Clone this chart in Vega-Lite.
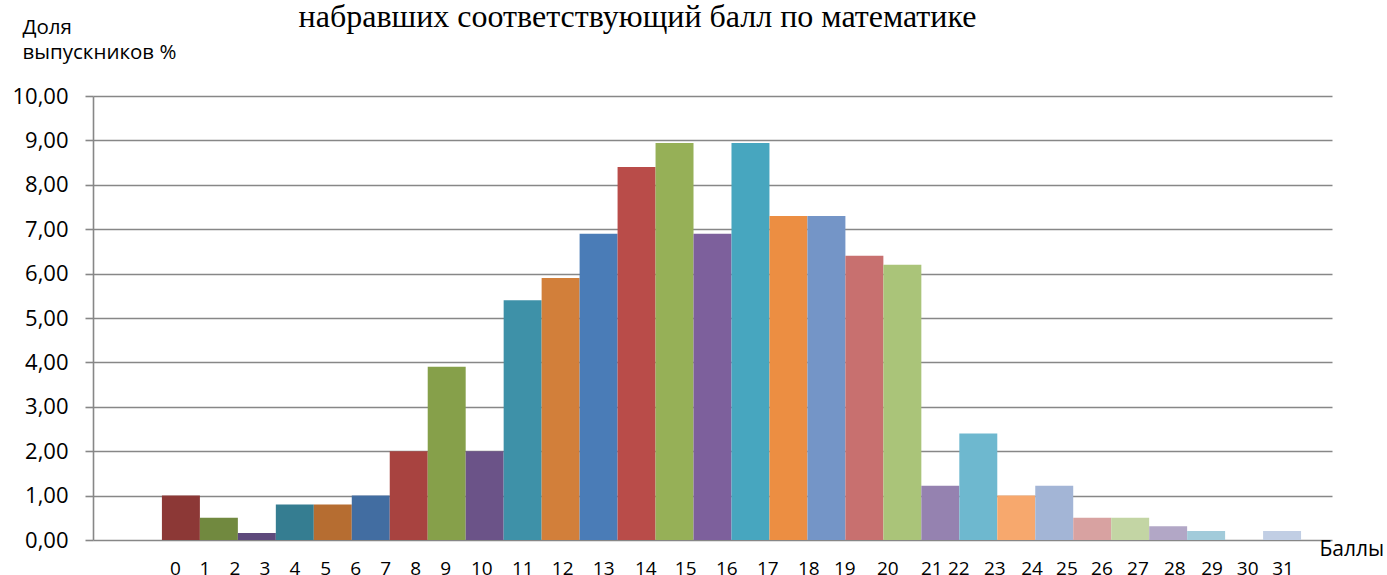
{
  "$schema": "https://vega.github.io/schema/vega-lite/v6.json",
  "width": 1239,
  "height": 444,
  "autosize": {"type": "none"},
  "padding": {"left": 93, "top": 96, "right": 55, "bottom": 35},
  "background": "white",
  "config": {"view": {"stroke": null}, "font": "Open Sans"},
  "layer": [
    {
      "data": {"values": [
        {"slot": 0, "pct": 1.0}, {"slot": 1, "pct": 0.5}, {"slot": 2, "pct": 0.16}, {"slot": 3, "pct": 0.8},
        {"slot": 4, "pct": 0.8}, {"slot": 5, "pct": 1.0}, {"slot": 6, "pct": 2.0}, {"slot": 7, "pct": 3.9},
        {"slot": 8, "pct": 2.0}, {"slot": 9, "pct": 5.4}, {"slot": 10, "pct": 5.9}, {"slot": 11, "pct": 6.9},
        {"slot": 12, "pct": 8.4}, {"slot": 13, "pct": 8.94}, {"slot": 14, "pct": 6.9}, {"slot": 15, "pct": 8.94},
        {"slot": 16, "pct": 7.3}, {"slot": 17, "pct": 7.3}, {"slot": 18, "pct": 6.4}, {"slot": 19, "pct": 6.2},
        {"slot": 20, "pct": 1.22}, {"slot": 21, "pct": 2.4}, {"slot": 22, "pct": 1.0}, {"slot": 23, "pct": 1.22},
        {"slot": 24, "pct": 0.5}, {"slot": 25, "pct": 0.5}, {"slot": 26, "pct": 0.31}, {"slot": 27, "pct": 0.2},
        {"slot": 28, "pct": 0}, {"slot": 29, "pct": 0.2}
      ]},
      "mark": {"type": "bar"},
      "encoding": {
        "x": {
          "field": "slot", "type": "ordinal",
          "scale": {"domain": [-1, 0, 1, 2, 3, 4, 5, 6, 7, 8, 9, 10, 11, 12, 13, 14, 15, 16, 17, 18, 19, 20, 21, 22, 23, 24, 25, 26, 27, 28, 29], "paddingInner": 0, "paddingOuter": 0.815},
          "axis": {
            "orient": "bottom", "labels": false, "ticks": false, "domain": false, "grid": false,
            "title": "Баллы", "titleX": 1226, "titleY": 15, "titleAlign": "left", "titleAnchor": "start",
            "titleBaseline": "alphabetic", "titleFontSize": 21, "titleFontWeight": "normal", "titleColor": "black", "titleFont": "Open Sans"
          }
        },
        "y": {
          "field": "pct", "type": "quantitative",
          "scale": {"domain": [0, 10], "nice": false},
          "axis": {
            "values": [0, 1, 2, 3, 4, 5, 6, 7, 8, 9, 10],
            "labelExpr": "replace(format(datum.value, '.2f'), '.', ',')",
            "labelFontSize": 22, "labelColor": "black", "labelPadding": 17, "labelFont": "Open Sans",
            "grid": true, "gridColor": "#878787", "gridWidth": 1.6,
            "domainColor": "#878787", "domainWidth": 1.6,
            "tickColor": "#878787", "tickSize": 8, "tickWidth": 1.6,
            "title": ["Доля", "выпускников %"], "titleAngle": 0, "titleX": -71, "titleY": -63,
            "titleAlign": "left", "titleAnchor": "start", "titleBaseline": "alphabetic", "titleFontSize": 20.5,
            "titleFontWeight": "normal", "titleColor": "black", "titleLineHeight": 25, "titleFont": "Open Sans"
          }
        },
        "color": {
          "field": "slot", "type": "ordinal", "legend": null,
          "scale": {"domain": [0, 1, 2, 3, 4, 5, 6, 7, 8, 9, 10, 11, 12, 13, 14, 15, 16, 17, 18, 19, 20, 21, 22, 23, 24, 25, 26, 27, 28, 29],
                    "range": ["#8C3836", "#71893F", "#5E4A7C", "#357D91", "#B66D31", "#426DA1", "#A84340", "#86A04A", "#6B5388", "#3E91A8", "#D27F3A", "#4A7CB7", "#B94C49", "#96B057", "#7D609C", "#47A6BF", "#EC8E42", "#7495C7", "#C8706F", "#AAC479", "#9582B0", "#6EB8CF", "#F7A86D", "#A3B5D6", "#D8A2A1", "#C3D5A4", "#B2A7C6", "#A2CBDA", "#FAC090", "#C1CEE4"]}
        }
      }
    },
    {
      "data": {"values": [
        {"label": "0", "pos": 0.41}, {"label": "1", "pos": 1.19}, {"label": "2", "pos": 1.98}, {"label": "3", "pos": 2.77},
        {"label": "4", "pos": 3.56}, {"label": "5", "pos": 4.37}, {"label": "6", "pos": 5.16}, {"label": "7", "pos": 5.95},
        {"label": "8", "pos": 6.74}, {"label": "9", "pos": 7.53}, {"label": "10", "pos": 8.48}, {"label": "11", "pos": 9.56},
        {"label": "12", "pos": 10.61}, {"label": "13", "pos": 11.69}, {"label": "14", "pos": 12.8}, {"label": "15", "pos": 13.85},
        {"label": "16", "pos": 14.93}, {"label": "17", "pos": 16.01}, {"label": "18", "pos": 17.09}, {"label": "19", "pos": 18.04},
        {"label": "20", "pos": 19.17}, {"label": "21", "pos": 20.33}, {"label": "22", "pos": 21.04}, {"label": "23", "pos": 21.99},
        {"label": "24", "pos": 22.97}, {"label": "25", "pos": 23.89}, {"label": "26", "pos": 24.81}, {"label": "27", "pos": 25.76},
        {"label": "28", "pos": 26.73}, {"label": "29", "pos": 27.71}, {"label": "30", "pos": 28.65}, {"label": "31", "pos": 29.58}
      ]},
      "mark": {"type": "text", "baseline": "alphabetic", "align": "center", "dy": 35, "fontSize": 19, "font": "Open Sans", "color": "black"},
      "encoding": {
        "x": {
          "field": "pos", "type": "quantitative",
          "scale": {"domain": [-1.76, 30.87], "nice": false, "zero": false},
          "axis": {
            "orient": "top", "labels": false, "ticks": false, "domain": false, "grid": false,
            "title": "набравших соответствующий балл по математике", "titleX": 544, "titleY": -70,
            "titleAlign": "center", "titleAnchor": "start", "titleBaseline": "alphabetic", "titleFontSize": 32,
            "titleFontWeight": "normal", "titleColor": "black", "titleFont": "Liberation Serif"
          }
        },
        "y": {"datum": 0, "type": "quantitative"},
        "text": {"field": "label"}
      }
    }
  ],
  "resolve": {"scale": {"x": "independent"}, "axis": {"x": "independent"}}
}
